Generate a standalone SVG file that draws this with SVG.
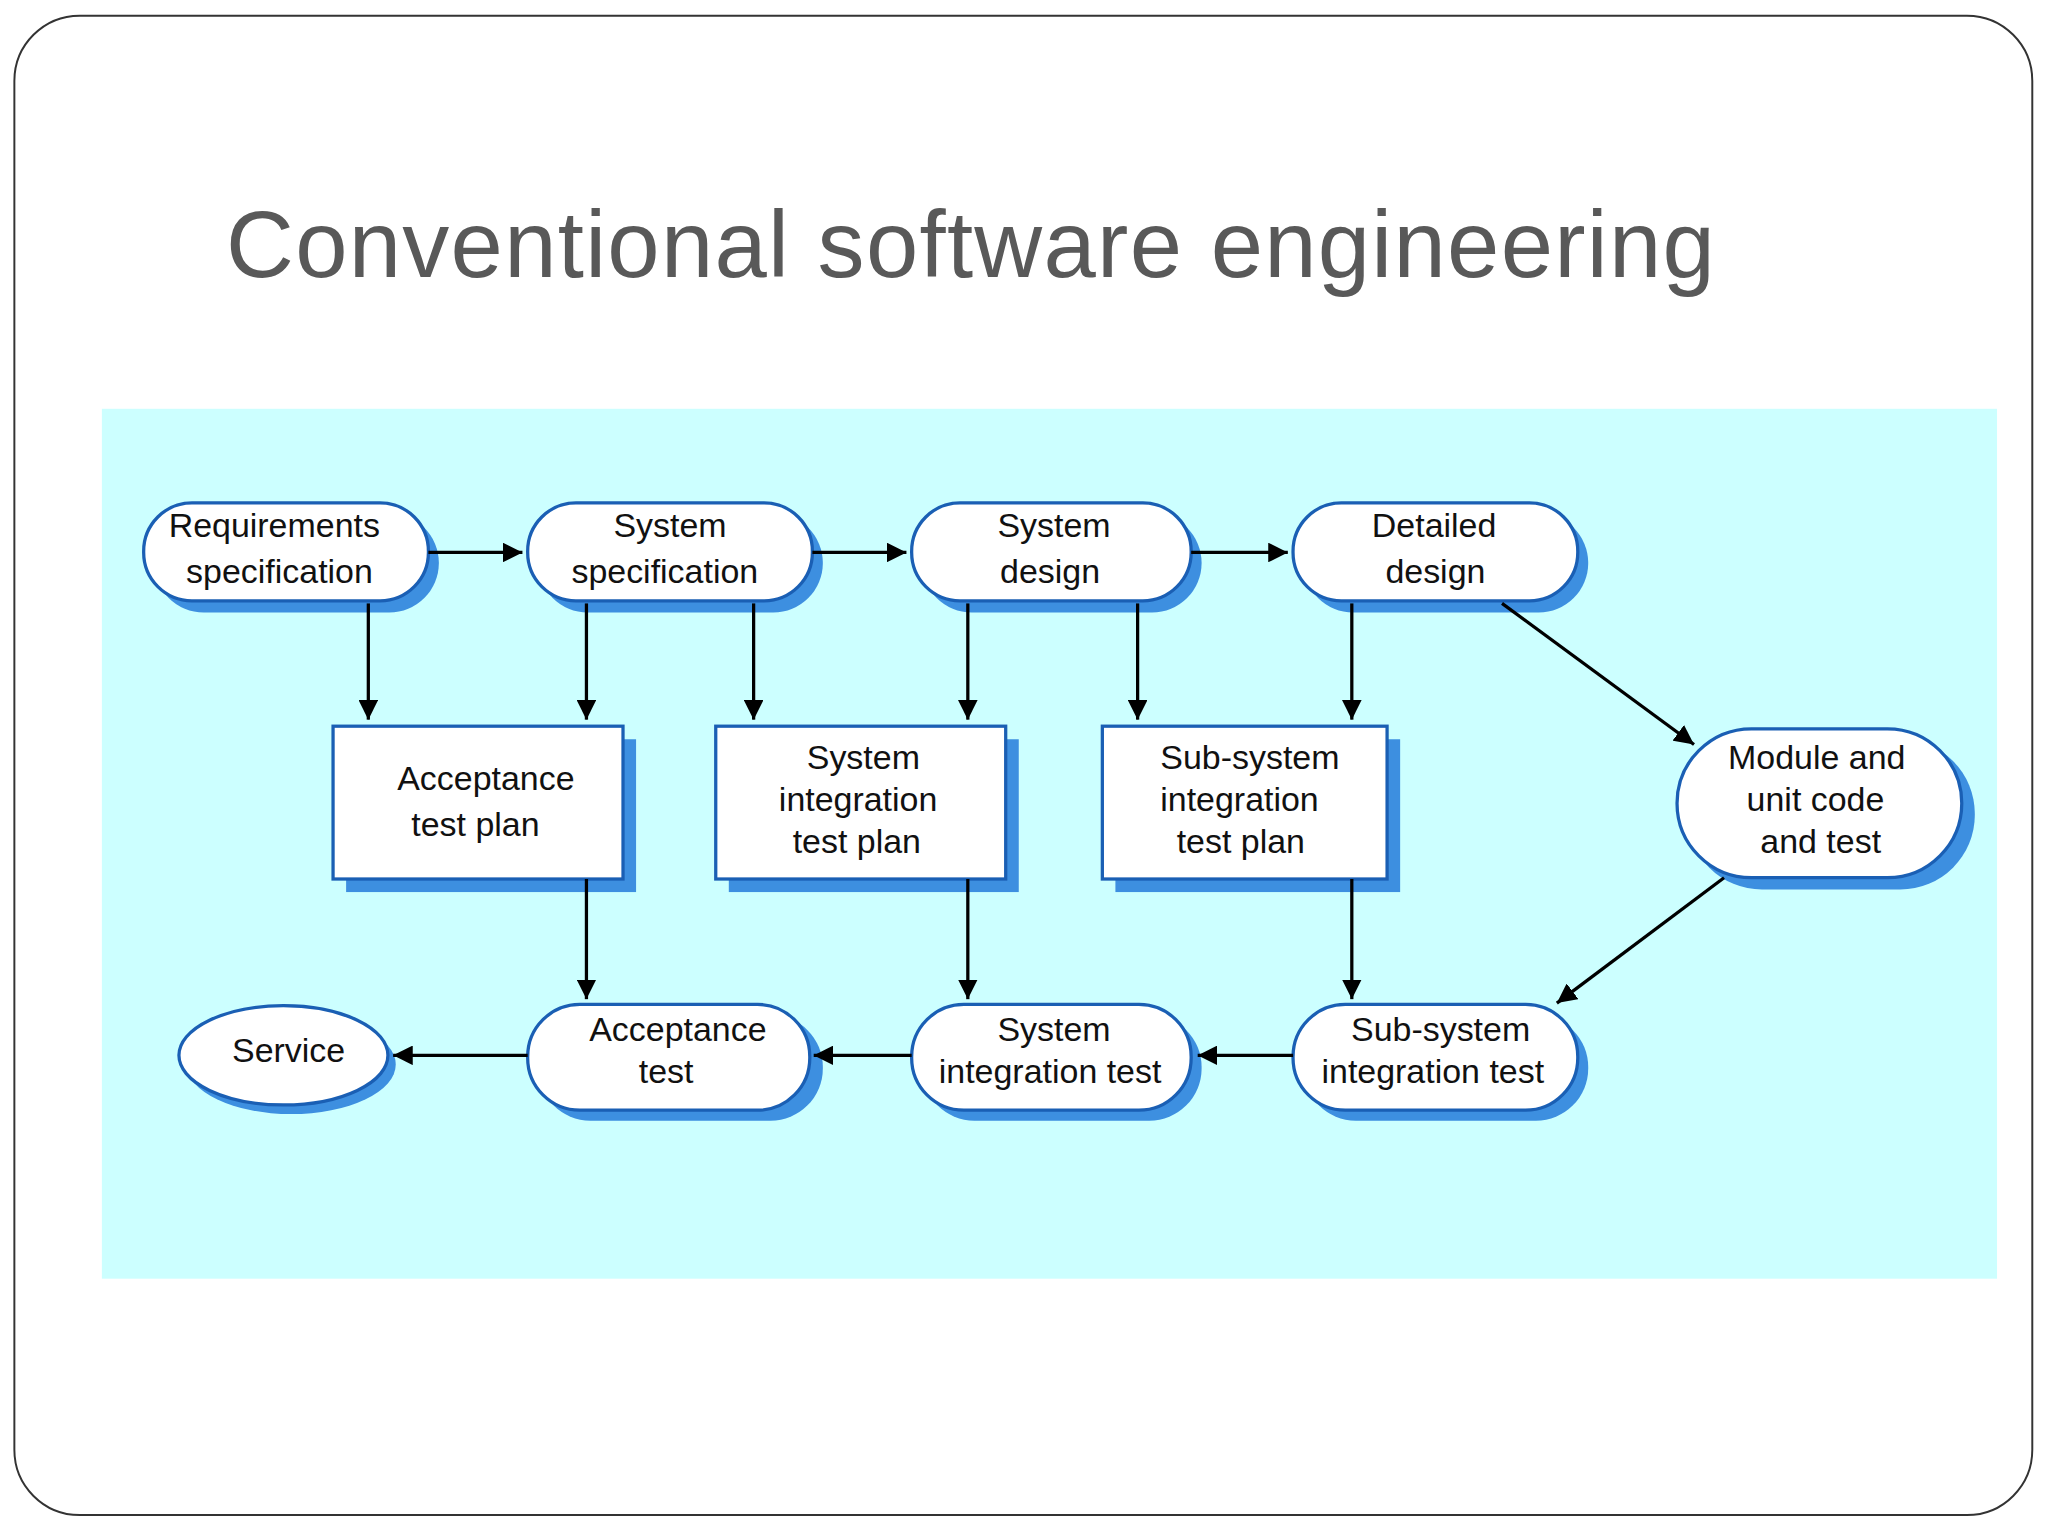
<svg xmlns="http://www.w3.org/2000/svg" width="2048" height="1536" viewBox="0 0 2048 1536">
<style>
.sh{fill:#3d8fe0}
.pill{fill:#fff;stroke:#1a5fb4;stroke-width:2.5}
.t{font-family:"Liberation Sans",Arial,sans-serif;font-size:26px;fill:#111;text-anchor:middle}
.c line{stroke:#000;stroke-width:2.5;marker-end:url(#a)}
</style>
<defs><marker id="a" viewBox="0 0 10 10" refX="10" refY="5" markerWidth="6" markerHeight="6" orient="auto"><path d="M0,0 L10,5 L0,10 z" fill="#000"/></marker></defs>
<rect width="2048" height="1536" fill="#fff"/>
<g transform="scale(1.3061)">
<rect x="11" y="12" width="1545" height="1148" rx="50" fill="#fff" stroke="#333" stroke-width="1.5"/>
<text x="173" y="212" font-family="Liberation Sans,Arial,sans-serif" font-size="72" fill="#595959" textLength="1140" lengthAdjust="spacing">Conventional software engineering</text>
<rect x="78" y="313" width="1451" height="666" fill="#ccffff"/>
<g id="req"><rect class="sh" x="118" y="393" width="218" height="76" rx="38"/><rect class="pill" x="110" y="385" width="218" height="75" rx="37"/><text class="t" x="210" y="411">Requirements</text><text class="t" x="214" y="446">specification</text></g>
<g id="sysspec"><rect class="sh" x="412" y="393" width="218" height="76" rx="38"/><rect class="pill" x="404" y="385" width="218" height="75" rx="37"/><text class="t" x="513" y="411">System</text><text class="t" x="509" y="446">specification</text></g>
<g id="sysdes"><rect class="sh" x="706" y="393" width="214" height="76" rx="38"/><rect class="pill" x="698" y="385" width="214" height="75" rx="37"/><text class="t" x="807" y="411">System</text><text class="t" x="804" y="446">design</text></g>
<g id="det"><rect class="sh" x="998" y="393" width="218" height="76" rx="38"/><rect class="pill" x="990" y="385" width="218" height="75" rx="37"/><text class="t" x="1098" y="411">Detailed</text><text class="t" x="1099" y="446">design</text></g>
<g id="atp"><rect class="sh" x="265" y="566" width="222" height="117"/><rect class="pill" x="255" y="556" width="222" height="117"/><text class="t" x="372" y="605">Acceptance</text><text class="t" x="364" y="640">test plan</text></g>
<g id="sitp"><rect class="sh" x="558" y="566" width="222" height="117"/><rect class="pill" x="548" y="556" width="222" height="117"/><text class="t" x="661" y="589">System</text><text class="t" x="657" y="621">integration</text><text class="t" x="656" y="653">test plan</text></g>
<g id="ssitp"><rect class="sh" x="854" y="566" width="218" height="117"/><rect class="pill" x="844" y="556" width="218" height="117"/><text class="t" x="957" y="589">Sub-system</text><text class="t" x="949" y="621">integration</text><text class="t" x="950" y="653">test plan</text></g>
<g id="mod"><rect class="sh" x="1292" y="566" width="220" height="115" rx="57"/><rect class="pill" x="1284" y="558" width="218" height="114" rx="57"/><text class="t" x="1391" y="589">Module and</text><text class="t" x="1390" y="621">unit code</text><text class="t" x="1394" y="653">and test</text></g>
<g id="svc"><ellipse class="sh" cx="223" cy="815" rx="80" ry="38"/><ellipse class="pill" cx="217" cy="808" rx="80" ry="38"/><text class="t" x="221" y="813">Service</text></g>
<g id="at"><rect class="sh" x="412" y="777" width="218" height="81" rx="40"/><rect class="pill" x="404" y="769" width="216" height="81" rx="40"/><text class="t" x="519" y="797">Acceptance</text><text class="t" x="510" y="829">test</text></g>
<g id="sit"><rect class="sh" x="706" y="777" width="214" height="81" rx="40"/><rect class="pill" x="698" y="769" width="214" height="81" rx="40"/><text class="t" x="807" y="797">System</text><text class="t" x="804" y="829">integration test</text></g>
<g id="ssit"><rect class="sh" x="998" y="777" width="218" height="81" rx="40"/><rect class="pill" x="990" y="769" width="218" height="81" rx="40"/><text class="t" x="1103" y="797">Sub-system</text><text class="t" x="1097" y="829">integration test</text></g>
<g class="c">
<line x1="328" y1="423" x2="400" y2="423"/><line x1="622" y1="423" x2="694" y2="423"/><line x1="912" y1="423" x2="986" y2="423"/>
<line x1="282" y1="462" x2="282" y2="551"/><line x1="449" y1="462" x2="449" y2="551"/><line x1="577" y1="462" x2="577" y2="551"/><line x1="741" y1="462" x2="741" y2="551"/><line x1="871" y1="462" x2="871" y2="551"/><line x1="1035" y1="462" x2="1035" y2="551"/>
<line x1="1150" y1="462" x2="1297" y2="570"/><line x1="1320" y1="672" x2="1192" y2="768"/>
<line x1="449" y1="673" x2="449" y2="765"/><line x1="741" y1="673" x2="741" y2="765"/><line x1="1035" y1="673" x2="1035" y2="765"/>
<line x1="990" y1="808" x2="917" y2="808"/><line x1="698" y1="808" x2="623" y2="808"/><line x1="404" y1="808" x2="301" y2="808"/>
</g>
</g>
</svg>
